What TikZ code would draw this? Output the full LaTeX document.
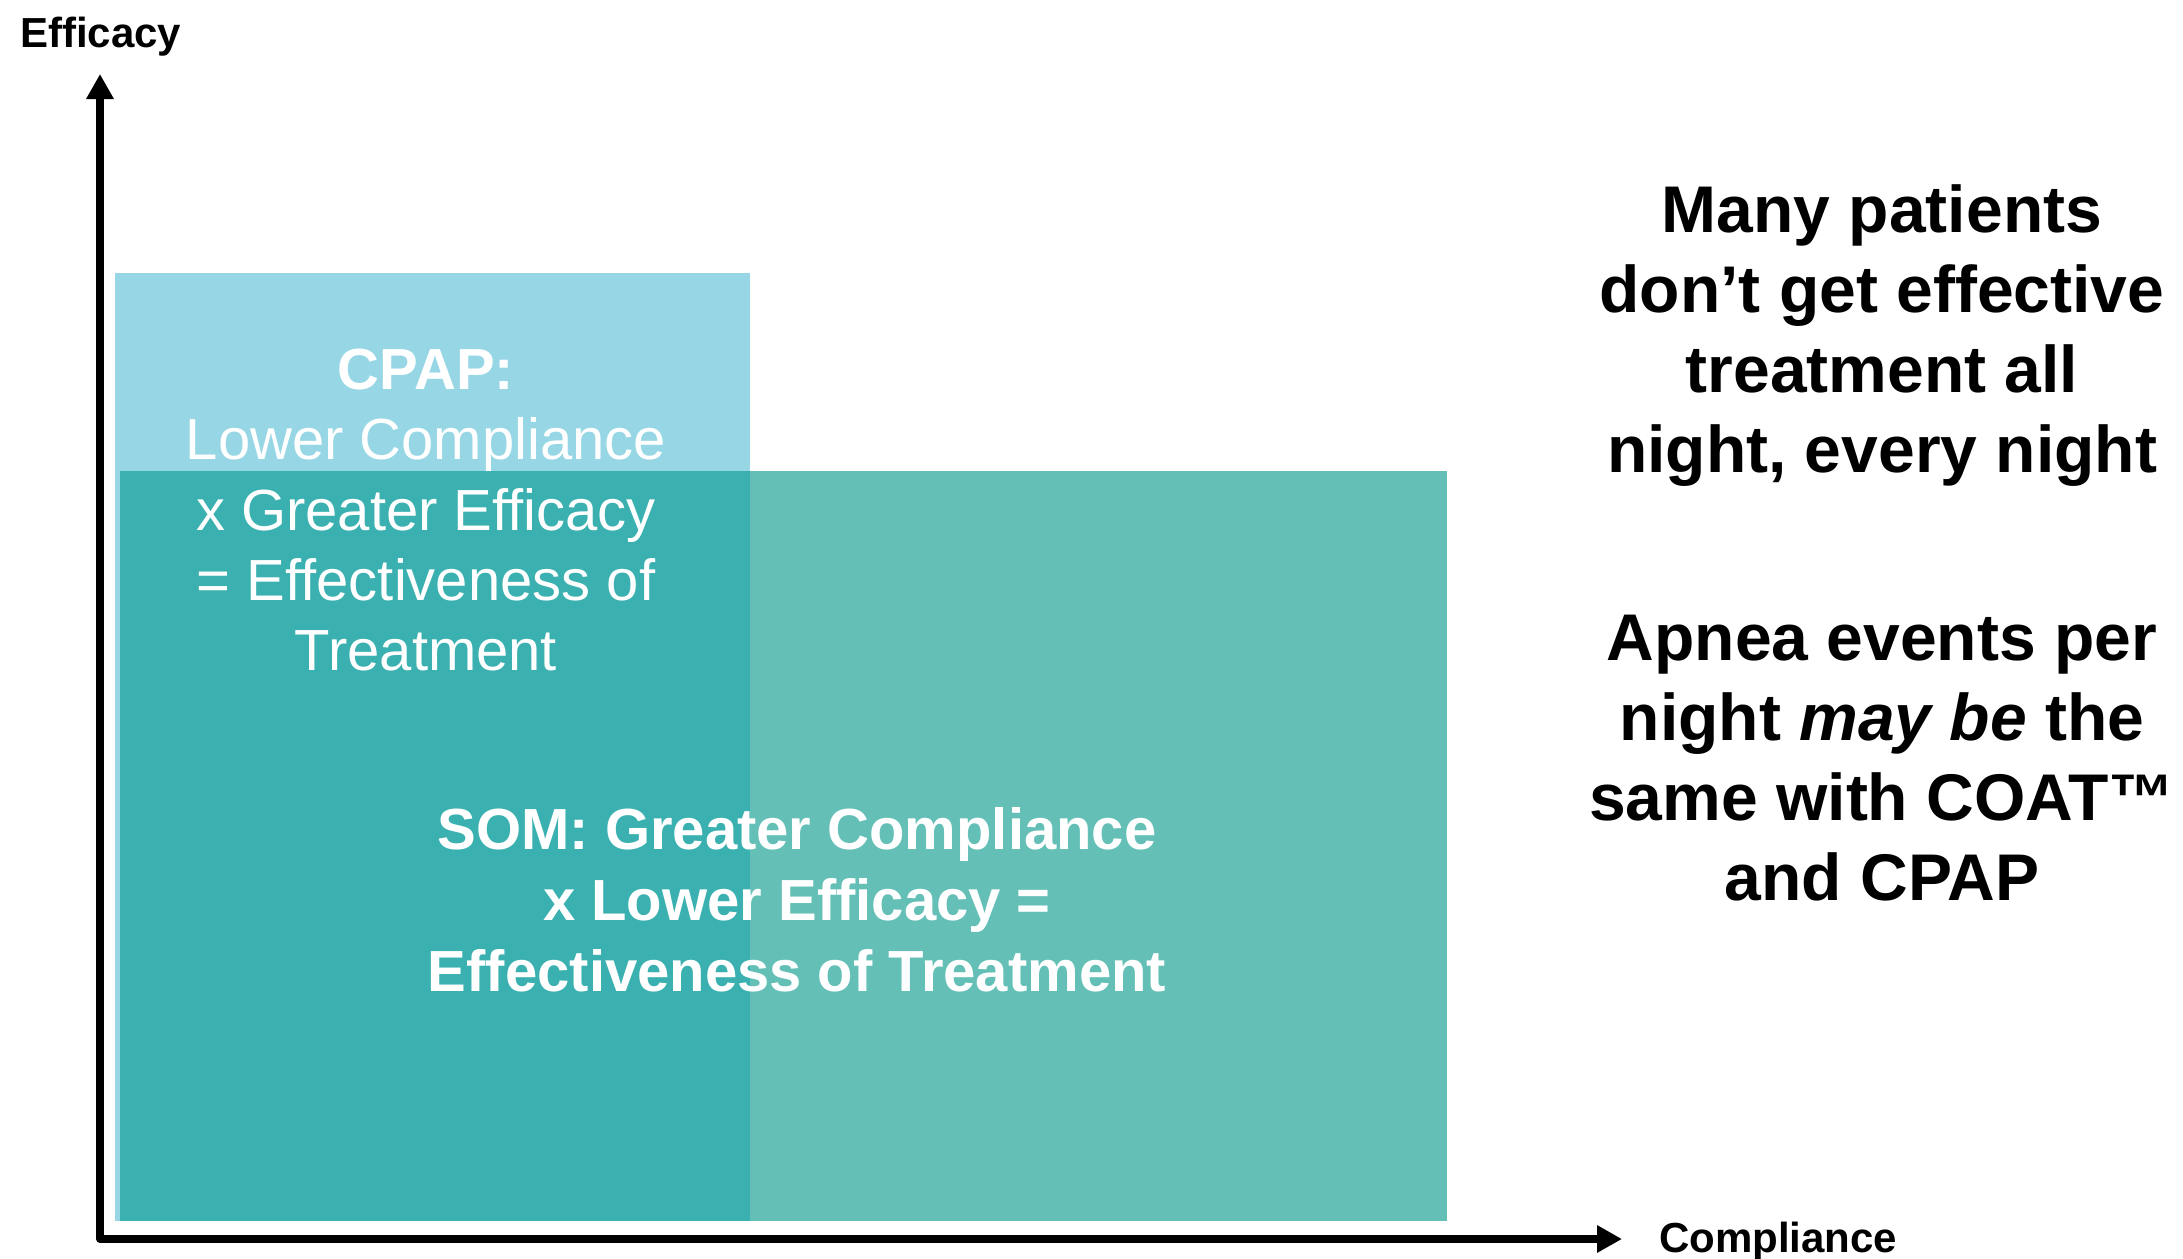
\documentclass[tikz,border=0pt]{standalone}
\usepackage{fontspec}
\setmainfont{Liberation Sans}
\usetikzlibrary{arrows.meta}
\definecolor{cpapblue}{HTML}{97D7E5}
\definecolor{overlapteal}{HTML}{3AB1B0}
\definecolor{somteal}{HTML}{64C0B7}
\begin{document}
\begin{tikzpicture}[x=1pt,y=-1pt,
  txt/.style={inner sep=0pt, anchor=base},
  boxtext/.style={txt, text=white, font=\fontsize{58}{70}\selectfont},
  boxbold/.style={txt, text=white, font=\fontsize{58}{70}\selectfont\bfseries},
  sidetext/.style={txt, font=\fontsize{66}{80}\selectfont\bfseries},
  axislabel/.style={inner sep=0pt, anchor=base west, font=\fontsize{42}{50}\selectfont\bfseries},
  axisline/.style={line width=8pt, line join=round},
  tip/.tip={Triangle[width=26pt,length=25pt]}]
\useasboundingbox (0,0) rectangle (2183,1258);
% bars
\fill[cpapblue] (115,273) rectangle (750,1221);
\fill[overlapteal] (120,471) rectangle (750,1221);
\fill[somteal] (750,471) rectangle (1447,1221);
% axes
\coordinate (ytop) at (100,74);
\coordinate (origin) at (100,1239);
\coordinate (xend) at (1622,1239);
\draw[axisline, tip-tip] (ytop) -- (origin) -- (xend);
\node[axislabel] (efflabel) at (20,47) {Efficacy};
\node[axislabel] (complabel) at (1659,1252) {Compliance};
% CPAP text
\node[boxbold] (cpap1) at (426,389) {CPAP:};
\node[boxtext] (cpap2) at (426,459) {Lower Compliance};
\node[boxtext] (cpap3) at (426,530) {x Greater Efficacy};
\node[boxtext] (cpap4) at (426,600) {= Effectiveness of};
\node[boxtext] (cpap5) at (426,670) {Treatment};
% SOM text
\node[boxbold] (som1) at (797,849) {SOM: Greater Compliance};
\node[boxbold] (som2) at (797,920) {x Lower Efficacy =};
\node[boxbold] (som3) at (797,991) {Effectiveness of Treatment};
% right text
\node[sidetext] (r1) at (1882,232) {Many patients};
\node[sidetext] (r2) at (1882,312) {don’t get effective};
\node[sidetext] (r3) at (1882,392) {treatment all};
\node[sidetext] (r4) at (1882,472) {night, every night};
\node[sidetext] (r5) at (1882,660) {Apnea events per};
\node[sidetext] (r6) at (1882,740) {night \textit{may be} the};
\node[sidetext] (r7) at (1882,820) {same with COAT™};
\node[sidetext] (r8) at (1882,900) {and CPAP};
\end{tikzpicture}
\end{document}
